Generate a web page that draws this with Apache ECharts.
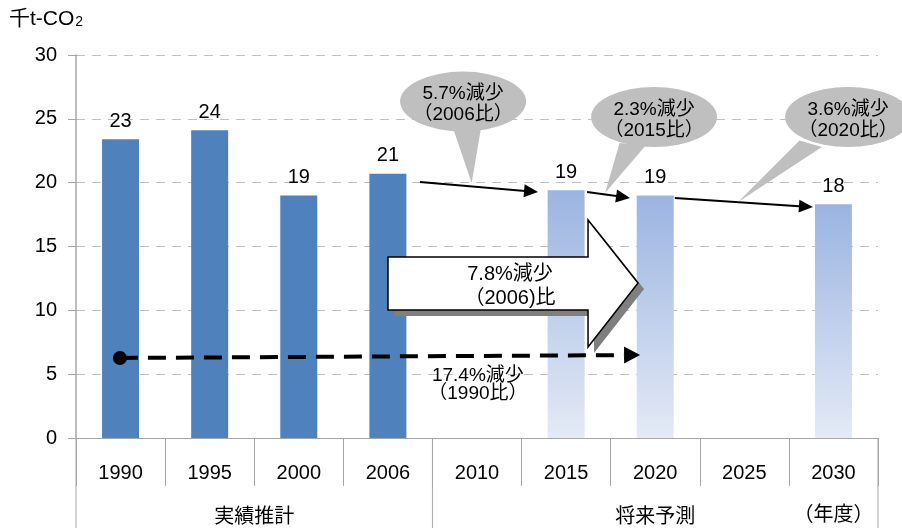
<!DOCTYPE html>
<html><head><meta charset="utf-8">
<script src="https://cdn.jsdelivr.net/npm/echarts@6/dist/echarts.min.js"></script>
<style>html,body{margin:0;padding:0;background:#fff}#c{width:902px;height:528px}</style>
</head><body><div id="c"></div>
<script>
// ---- data ----
const categories = ['1990','1995','2000','2006','2010','2015','2020','2025','2030'];
const values = [23.4, 24.1, 19.0, 20.7, null, 19.4, 19.0, null, 18.3];
const isForecast = [false,false,false,false,true,true,true,true,true];
const yMin = 0, yMax = 30, yInterval = 5;
const unitText = '千t-CO';
const unitSub = '2';
const groupNames = ['実績推計', '将来予測'];
const groupStarts = [0, 4];
const groupEnds = [3, 8];
const yearUnit = '（年度）';
const calloutTexts = [['5.7%減少','（2006比）'], ['2.3%減少','（2015比）'], ['3.6%減少','（2020比）']];
const bigArrowText = ['7.8%減少', '（2006)比'];
const dashedText = ['17.4%減少', '（1990比）'];

// ---- annotation anchors (category index, value) ----
const calloutAnchors = [
  {c:[3.844, 26.35], tail:[[3.70,24.9],[4.06,24.9],[3.94,19.97]]},
  {c:[5.987, 25.15], tail:[[5.60,23.1],[5.89,22.9],[5.437,19.19]]},
  {c:[8.164, 25.15], tail:[[7.62,23.3],[7.87,22.8],[6.93,18.49]]}
];
const thinArrows = [
  [[3.36,20.05],[4.685,19.27]],
  [[5.235,19.27],[5.717,18.8]],
  [[6.22,18.8],[7.77,18.09]]
];
const bigArrowPts = {bodyL:3.001, neck:5.246, tip:5.807, bodyTop:14.18, bodyBot:10.03, headTop:17.08, headBot:7.13, mid:12.14};
const dashedArrow = [[-0.007,6.27],[5.83,6.5]];
const dashedLabel = [4.01, 4.15];

const FF = '"Liberation Sans", Arial, "Noto Sans CJK JP", sans-serif';
const GRAY = '#A6A6A6';

const chart = echarts.init(document.getElementById('c'));
const darkColor = '#4F81BD';
const lightGrad = new echarts.graphic.LinearGradient(0,0,0,1,[{offset:0,color:'#9BB4E1'},{offset:1,color:'#E4EAF6'}]);

chart.setOption({
  animation: false,
  grid: {left:76, right:24, top:55, bottom:90, containLabel:false},
  xAxis: {
    type:'category', data:categories, boundaryGap:true,
    axisLine:{show:true, lineStyle:{color:GRAY, width:1}},
    axisTick:{show:true, length:48, interval:0, lineStyle:{color:GRAY}},
    axisLabel:{interval:0, margin:25, color:'#000', fontSize:20, fontFamily:FF},
    splitLine:{show:false}
  },
  yAxis: {
    type:'value', min:yMin, max:yMax, interval:yInterval,
    axisLine:{show:true, lineStyle:{color:GRAY, width:1.5}},
    axisTick:{show:true, length:8, lineStyle:{color:GRAY}},
    axisLabel:{margin:19, color:'#000', fontSize:20, fontFamily:FF},
    splitLine:{show:true, lineStyle:{color:'#BFBFBF', type:[9,7], width:1}}
  },
  series: [{
    type:'bar', barWidth:37,
    data: values.map((v,i)=> v==null ? '-' : {value:v, itemStyle:{color: isForecast[i] ? lightGrad : darkColor}}),
    label:{show:true, position:'top', distance:8, color:'#000', fontSize:20, fontFamily:FF,
      formatter: p => Math.round(p.value)}
  }]
});

// helpers mapping annotation coords to pixels
const x0 = chart.convertToPixel({xAxisIndex:0}, 0);
const x1 = chart.convertToPixel({xAxisIndex:0}, 1);
const step = x1 - x0;
const X = i => x0 + i*step;
const Y = v => chart.convertToPixel({yAxisIndex:0}, v);
const P = a => [X(a[0]), Y(a[1])];

const g = [];
// unit label
g.push({type:'text', left:9, top:9, style:{text:'{a|'+unitText+'}{b|'+unitSub+'}',
  rich:{a:{fontSize:21, fontFamily:FF, fill:'#000'}, b:{fontSize:14, fontFamily:FF, fill:'#000', padding:[6,0,0,1]}}}});

// group separators and labels
const y0 = Y(0);
const bounds = [X(-0.5), X(groupEnds[0]+0.5), X(groupEnds[1]+0.5)];
bounds.forEach(bx => g.push({type:'line', shape:{x1:bx, y1:y0, x2:bx, y2:528}, style:{stroke:GRAY, lineWidth:1}}));
groupNames.forEach((n, k) => {
  const cx = (X(groupStarts[k]-0.5) + X(groupEnds[k]+0.5))/2;
  g.push({type:'text', x:cx, y:y0+79, style:{text:n, textAlign:'center', textVerticalAlign:'middle', fontSize:20, fontFamily:FF, fill:'#000'}});
});
g.push({type:'text', x:X(8), y:y0+77, style:{text:yearUnit, textAlign:'center', textVerticalAlign:'middle', fontSize:20, fontFamily:FF, fill:'#000'}});

function arrowHead(p, q, len, half, color) {
  const dx = q[0]-p[0], dy = q[1]-p[1];
  const L = Math.hypot(dx, dy), ux = dx/L, uy = dy/L;
  const bx = q[0]-ux*len, by = q[1]-uy*len;
  return {type:'polygon', shape:{points:[[q[0],q[1]],[bx-uy*half, by+ux*half],[bx+uy*half, by-ux*half]]}, style:{fill:color}};
}

// thin arrows
thinArrows.forEach(a => {
  const p = P(a[0]), q = P(a[1]);
  const dx=q[0]-p[0], dy=q[1]-p[1], L=Math.hypot(dx,dy);
  const e = [q[0]-dx/L*10, q[1]-dy/L*10];
  g.push({type:'line', shape:{x1:p[0], y1:p[1], x2:e[0], y2:e[1]}, style:{stroke:'#000', lineWidth:2}});
  g.push(arrowHead(p, q, 14, 6.5, '#000'));
});

// callouts
calloutAnchors.forEach((c, k) => {
  const cp = P(c.c);
  g.push({type:'polygon', shape:{points:c.tail.map(P)}, style:{fill:'#BFBFBF'}});
  g.push({type:'circle', x:cp[0], y:cp[1], scaleX:63/30, shape:{cx:0, cy:0, r:30}, style:{fill:'#BFBFBF'}});
  g.push({type:'text', x:cp[0], y:cp[1]+3, style:{text:calloutTexts[k].join('\n'), textAlign:'center', textVerticalAlign:'middle',
    fontSize:19, lineHeight:21, fontFamily:FF, fill:'#000'}});
});

// big block arrow
const b = bigArrowPts;
const bigPts = [[b.bodyL,b.bodyTop],[b.neck,b.bodyTop],[b.neck,b.headTop],[b.tip,b.mid],[b.neck,b.headBot],[b.neck,b.bodyBot],[b.bodyL,b.bodyBot]].map(P);
g.push({type:'polygon', shape:{points:bigPts.map(p=>[p[0]+6,p[1]+6])}, style:{fill:'#7F7F7F'}});
g.push({type:'polygon', shape:{points:bigPts}, style:{fill:'#fff', stroke:'#000', lineWidth:1.5}});
g.push({type:'text', x:(X(b.bodyL)+X(b.neck))/2+22, y:Y(b.mid)+3, style:{text:bigArrowText.join('\n'), textAlign:'center', textVerticalAlign:'middle',
  fontSize:20, lineHeight:24, fontFamily:FF, fill:'#000'}});

// dashed arrow
const ds = P(dashedArrow[0]), de = P(dashedArrow[1]);
const ddx = de[0]-ds[0], ddy = de[1]-ds[1], dL = Math.hypot(ddx, ddy);
g.push({type:'line', shape:{x1:ds[0], y1:ds[1], x2:de[0]-ddx/dL*16, y2:de[1]-ddy/dL*16}, style:{stroke:'#000', lineWidth:4, lineDash:[18,10]}});
g.push(arrowHead(ds, de, 16, 8.5, '#000'));
g.push({type:'circle', shape:{cx:ds[0], cy:ds[1], r:7}, style:{fill:'#000'}});
const dl = P(dashedLabel);
g.push({type:'text', x:dl[0], y:dl[1], style:{text:dashedText.join('\n'), textAlign:'center', textVerticalAlign:'middle',
  fontSize:19, lineHeight:18, fontFamily:FF, fill:'#000'}});

g.forEach(el => { el.z = 100; });
chart.setOption({graphic: g});
</script>
</body></html>
